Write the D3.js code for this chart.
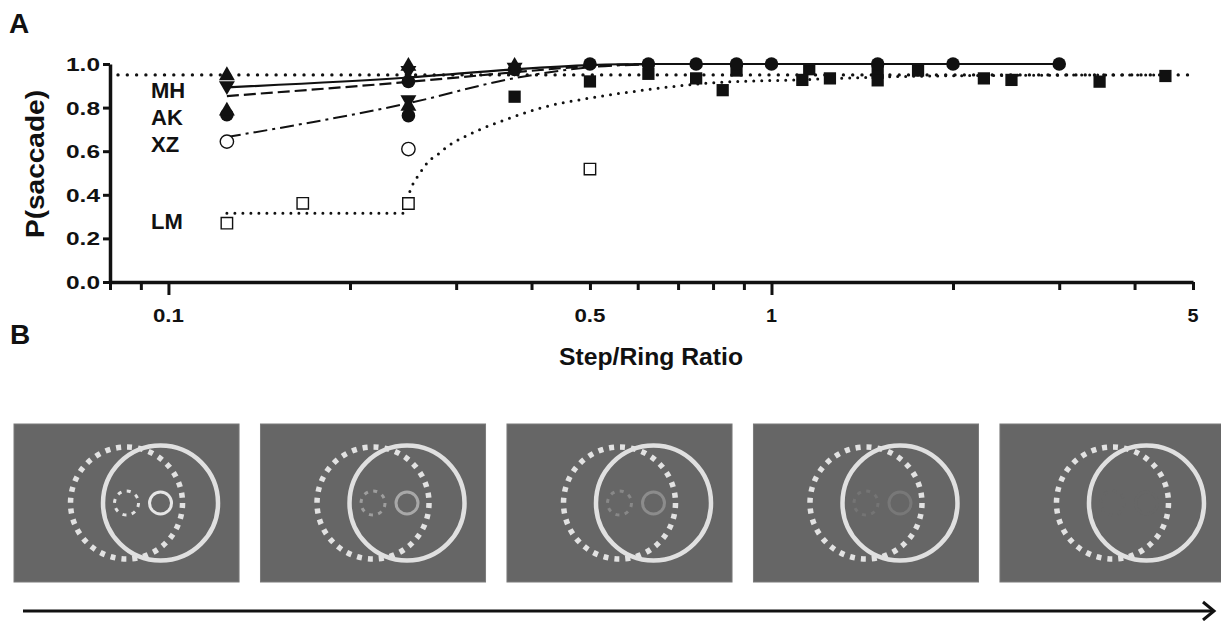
<!DOCTYPE html>
<html><head><meta charset="utf-8">
<script src="https://cdn.jsdelivr.net/npm/d3@7"></script>
<style>body{margin:0;background:#fff}</style>
</head><body>
<svg id="c" width="1221" height="621"></svg>
<script>
// ---------- DATA ----------
const xTickValues = [0.08,0.09,0.1,0.2,0.3,0.4,0.5,0.6,0.7,0.8,0.9,1,2,3,4,5];
const xMajorTicks = [0.1, 1];
const xLabelValues = [0.1, 0.5, 1, 5];
const xLabelTexts = ["0.1", "0.5", "1", "5"];
const yTickValues = [0, 0.2, 0.4, 0.6, 0.8, 1.0];
const yTickLabels = ["0.0", "0.2", "0.4", "0.6", "0.8", "1.0"];
const subjects = ["MH", "AK", "XZ", "LM"];
const criterion = 0.95;

const triUpX = [0.125, 0.125, 0.25, 0.25, 0.375];
const triUpY = [0.947, 0.785, 0.99, 0.807, 0.99];
const triDownX = [0.125, 0.25, 0.25, 0.375];
const triDownY = [0.90, 0.97, 0.835, 0.985];
const filledCircleX = [0.125, 0.25, 0.25, 0.375, 0.5, 0.625, 0.75, 0.875, 1, 1.5, 2, 3];
const filledCircleY = [0.767, 0.92, 0.763, 0.975, 1, 1, 1, 1, 1, 1, 1, 1];
const filledSquareX = [0.375, 0.5, 0.625, 0.75, 0.83, 0.875, 1.125, 1.155, 1.25, 1.5, 1.5, 1.75, 2.25, 2.5, 3.5, 4.5];
const filledSquareY = [0.85, 0.92, 0.955, 0.934, 0.88, 0.97, 0.927, 0.976, 0.934, 0.96, 0.925, 0.97, 0.934, 0.927, 0.919, 0.945];
const openCircleX = [0.125, 0.25];
const openCircleY = [0.644, 0.61];
const openSquareX = [0.125, 0.167, 0.25, 0.5];
const openSquareY = [0.27, 0.361, 0.36, 0.518];

const fitSolidX = [0.125, 0.25, 0.375, 0.5, 0.625, 0.75, 3];
const fitSolidY = [0.893, 0.938, 0.976, 0.995, 1.0, 1.0, 1.0];
const fitDashX = [0.125, 0.25, 0.375, 0.5, 0.625];
const fitDashY = [0.853, 0.918, 0.962, 0.99, 1.0];
const fitDashDotX = [0.125, 0.25, 0.375, 0.5, 0.625];
const fitDashDotY = [0.665, 0.82, 0.935, 0.985, 0.998];
const fitDotX = [0.125, 0.246, 0.2485, 0.2518, 0.2549, 0.26, 0.2656, 0.2735, 0.2823, 0.2895, 0.299, 0.327, 0.371, 0.422, 0.4975, 0.618, 0.797, 1.096, 1.5, 2.5, 4.5];
const fitDotY = [0.315, 0.315, 0.376, 0.42, 0.455, 0.49, 0.529, 0.567, 0.593, 0.62, 0.644, 0.697, 0.755, 0.804, 0.843, 0.881, 0.914, 0.927, 0.94, 0.948, 0.95];

// Panel B frames: contrast of the small target rings in each frame
const frames = [1, 2, 3, 4, 5];
const targetColors = ["#e6e6e6", "#a8a8a8", "#8c8c8c", "#787878", "#666666"];
const targetDotColors = ["#e2e2e2", "#9e9e9e", "#888888", "#747474", "#666666"];

// ---------- DRAW ----------
const svg = d3.select("#c");
const FONT = "'Liberation Sans', Arial, sans-serif";
const x = d3.scaleLog().domain([0.08, 5]).range([110, 1193]);
const y = d3.scaleLinear().domain([0, 1]).range([282, 64]);
const ink = "#111";

// axes
const gx = svg.append("g").attr("transform", "translate(0,282)")
  .call(d3.axisBottom(x).tickValues(xTickValues).tickSizeOuter(0).tickFormat(""));
gx.select(".domain").attr("stroke", ink).attr("stroke-width", 3.5);
gx.selectAll(".tick line").attr("stroke", ink).attr("stroke-width", 3)
  .attr("y2", d => xMajorTicks.includes(d) ? 13 : 8);

const gy = svg.append("g").attr("transform", "translate(110,0)")
  .call(d3.axisLeft(y).tickValues(yTickValues).tickSize(7).tickSizeOuter(0).tickFormat((d, i) => yTickLabels[i]));
gy.select(".domain").attr("stroke", ink).attr("stroke-width", 3.5);
gy.selectAll(".tick line").attr("stroke", ink).attr("stroke-width", 3);
gy.selectAll(".tick text").attr("font-family", FONT).attr("font-weight", "bold")
  .attr("font-size", 18).attr("fill", ink).attr("x", -10).attr("dy", "0.36em")
  .attr("textLength", 34).attr("lengthAdjust", "spacingAndGlyphs");

// x labels
svg.append("g").selectAll("text").data(xLabelValues).join("text")
  .attr("x", d => x(d)).attr("y", 322).attr("text-anchor", "middle")
  .attr("font-family", FONT).attr("font-weight", "bold").attr("font-size", 18).attr("fill", ink)
  .attr("textLength", (d, i) => xLabelTexts[i].length > 1 ? 31 : 11).attr("lengthAdjust", "spacingAndGlyphs")
  .text((d, i) => xLabelTexts[i]);

svg.append("text").attr("x", 651).attr("y", 365).attr("text-anchor", "middle")
  .attr("font-family", FONT).attr("font-weight", "bold").attr("font-size", 23).attr("fill", ink)
  .attr("textLength", 184).attr("lengthAdjust", "spacingAndGlyphs").text("Step/Ring Ratio");

svg.append("text").attr("transform", "translate(44,164) rotate(-90)").attr("text-anchor", "middle")
  .attr("font-family", FONT).attr("font-weight", "bold").attr("font-size", 26).attr("fill", ink)
  .attr("textLength", 148).attr("lengthAdjust", "spacingAndGlyphs").text("P(saccade)");

svg.append("text").attr("x", 9).attr("y", 33).attr("font-family", FONT).attr("font-weight", "bold")
  .attr("font-size", 28).attr("fill", ink).text("A");
svg.append("text").attr("x", 10).attr("y", 344).attr("font-family", FONT).attr("font-weight", "bold")
  .attr("font-size", 28).attr("fill", ink).text("B");

// subject labels
const subjBase = [98, 125, 152, 229];
svg.append("g").selectAll("text").data(subjects).join("text")
  .attr("x", 151).attr("y", (d, i) => subjBase[i])
  .attr("font-family", FONT).attr("font-weight", "bold").attr("font-size", 22).attr("fill", ink)
  .text(d => d);

// criterion line
svg.append("line").attr("x1", x(0.08) + 8).attr("x2", x(5)).attr("y1", y(criterion)).attr("y2", y(criterion))
  .attr("stroke", ink).attr("stroke-width", 3.4).attr("stroke-linecap", "round").attr("stroke-dasharray", "0 9.3");

// fit lines
function fit(xs, ys, dash, w, cap) {
  const line = d3.line().x(d => x(d[0])).y(d => y(d[1])).curve(d3.curveMonotoneX);
  svg.append("path").attr("d", line(xs.map((v, i) => [v, ys[i]])))
    .attr("fill", "none").attr("stroke", ink).attr("stroke-width", w)
    .attr("stroke-dasharray", dash).attr("stroke-linecap", cap || "butt");
}
fit(fitDotX, fitDotY, "0 8", 3, "round");
fit(fitDashDotX, fitDashDotY, "14 5 3 5", 2);
fit(fitDashX, fitDashY, "12 5", 2.2);
fit(fitSolidX, fitSolidY, null, 2.2);

// markers
const sym = (type, size) => d3.symbol().type(type).size(size);
function pts(xs, ys, type, size, fill, stroke, sw, rot) {
  svg.append("g").selectAll("path").data(xs.map((v, i) => [v, ys[i]])).join("path")
    .attr("transform", d => `translate(${x(d[0])},${y(d[1])})` + (rot ? " rotate(180)" : ""))
    .attr("d", sym(type, size)).attr("fill", fill).attr("stroke", stroke).attr("stroke-width", sw);
}
pts(openSquareX, openSquareY, d3.symbolSquare, 130, "#fff", ink, 1.4);
pts(openCircleX, openCircleY, d3.symbolCircle, 140, "#fff", ink, 1.4);
pts(filledSquareX, filledSquareY, d3.symbolSquare, 150, ink, "none", 0);
pts(filledCircleX, filledCircleY, d3.symbolCircle, 145, ink, "none", 0);
pts(triUpX, triUpY, d3.symbolTriangle, 110, ink, "none", 0);
pts(triDownX, triDownY, d3.symbolTriangle, 110, ink, "none", 0, true);

// ---------- PANEL B ----------
const fx = d3.scaleBand().domain(frames).range([14, 1225]).paddingInner(0.087).paddingOuter(0);
const gB = svg.append("g");
frames.forEach((f, i) => {
  const x0 = fx(f), w = fx.bandwidth();
  const g = gB.append("g");
  g.append("rect").attr("x", x0).attr("y", 424).attr("width", w).attr("height", 158)
    .attr("fill", "#666").attr("stroke", "#7a7a7a").attr("stroke-width", 1);
  const cx = x0 + w / 2, cy = 503;
  g.append("circle").attr("cx", cx).attr("cy", cy).attr("r", 56).attr("fill", "none")
    .attr("stroke", "#e2e2e2").attr("stroke-width", 5.5).attr("stroke-dasharray", "5 6");
  g.append("circle").attr("cx", cx + 34).attr("cy", cy).attr("r", 57.5).attr("fill", "none")
    .attr("stroke", "#e0e0e0").attr("stroke-width", 4.5);
  g.append("circle").attr("cx", cx).attr("cy", cy).attr("r", 12).attr("fill", "none")
    .attr("stroke", targetDotColors[i]).attr("stroke-width", 3).attr("stroke-dasharray", "4 5.4");
  g.append("circle").attr("cx", cx + 34).attr("cy", cy).attr("r", 11).attr("fill", "none")
    .attr("stroke", targetColors[i]).attr("stroke-width", 3);
});
// time arrow
svg.append("line").attr("x1", 23).attr("x2", 1213).attr("y1", 611).attr("y2", 611)
  .attr("stroke", ink).attr("stroke-width", 3);
svg.append("path").attr("d", "M1203,602 L1214,611 L1203,620").attr("fill", "none")
  .attr("stroke", ink).attr("stroke-width", 3);
</script>
</body></html>
